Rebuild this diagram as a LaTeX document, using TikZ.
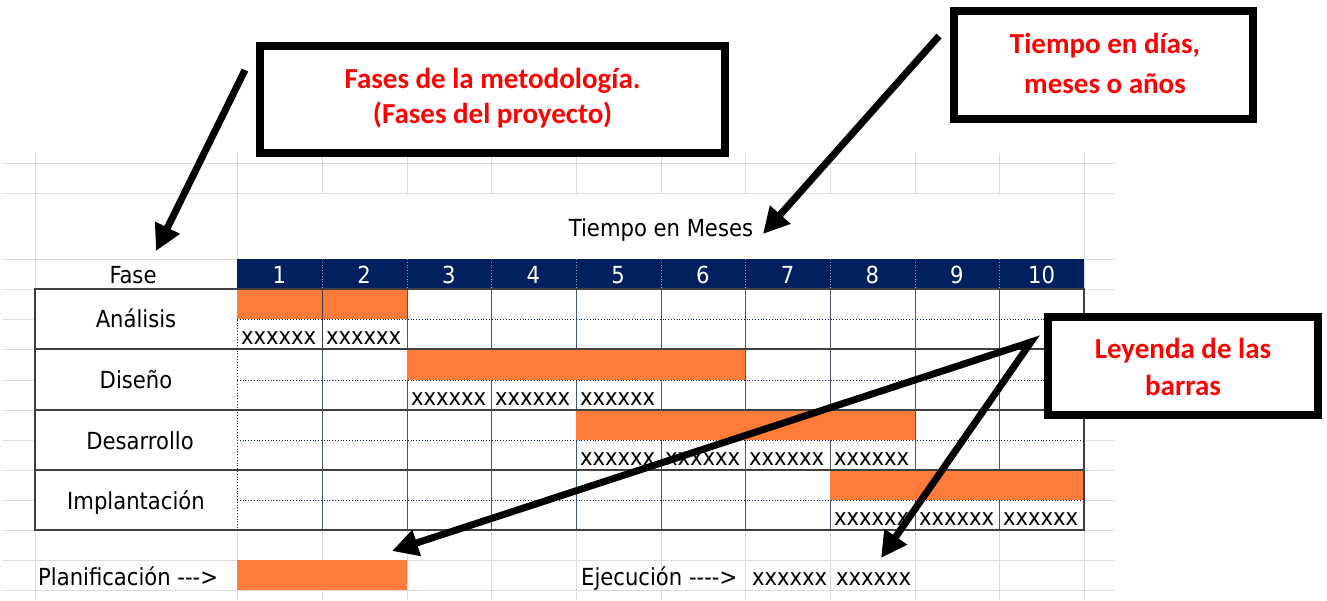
\documentclass[tikz,border=0pt]{standalone}
\usepackage{fontspec}
\newfontfamily\tabfont{DejaVu Sans Condensed}
\newfontfamily\calib{Carlito}
\usetikzlibrary{arrows.meta}
\definecolor{navy}{HTML}{002060}
\definecolor{orng}{HTML}{FF7B39}
\definecolor{lgrid}{HTML}{DCDCDC}
\definecolor{dgrid}{HTML}{404040}
\definecolor{vline}{HTML}{44547A}
\definecolor{redtxt}{HTML}{FF0000}
\tikzset{
  tabtxt/.style={font=\tabfont\fontsize{23.5}{28}\selectfont, inner sep=0pt},
  hdrtxt/.style={tabtxt, text=white, anchor=base},
  xlbl/.style={tabtxt, anchor=base west},
  redlbl/.style={font=\calib\bfseries\fontsize{29}{35}\selectfont, text=redtxt, inner sep=0pt, anchor=base},
  callout/.style={draw=black, line width=8pt, fill=white, inner sep=0pt},
  bigarrow/.style={line width=7pt, line join=miter, -{Triangle[length=26pt,width=26pt]}},
  bar/.style={fill=orng},
  light/.style={lgrid, line width=1pt},
}
\begin{document}
\begin{tikzpicture}[x=1pt,y=-1pt]
\useasboundingbox (0,0) rectangle (1327,600);
\fill[white] (0,0) rectangle (1327,600);

% spreadsheet grid
\foreach \y in {163,193,259,289,319,349,380,410,440,470,500,530,560,590}
  \draw[light] (3,\y) -- (1115,\y);
\foreach \x in {35,237,1084}
  \draw[light] (\x,153) -- (\x,600);
\foreach \x in {322,407,491,576,661,745,830,915,999}{
  \draw[light] (\x,153) -- (\x,193);
  \draw[light] (\x,530) -- (\x,600);
}

% header
\fill[navy] (237,259) rectangle (1084,289);
\foreach \x in {322,407,491,576,661,745,830,915,999}
  \draw[white!55!navy, dotted, line width=0.8pt] (\x,259) -- (\x,289);
\foreach \n in {1,...,10}
  \node[hdrtxt] (h\n) at ({237+84.7*(\n-0.5)},283) {\n};

% table inner lines
\fill[white] (35,289) rectangle (1084,530);
\foreach \x in {322,407,491,576,661,745,830,915,999}
  \draw[vline, line width=0.9pt] (\x,289) -- (\x,530);
\foreach \y in {319,380,440,500}
  \draw[navy, dotted, line width=0.8pt] (237,\y) -- (1084,\y);
\draw[navy, dotted, line width=0.8pt] (237,289) -- (237,530);

% bars
\fill[bar] (237,289) rectangle (407,319);
\fill[bar] (407,349) rectangle (745,380);
\fill[bar] (576,410) rectangle (915,440);
\fill[bar] (830,470) rectangle (1084,500);
\fill[bar] (237,560) rectangle (407,590);
\draw[dgrid, line width=0.9pt] (322,289) -- (322,349);

% row separators and border
\foreach \y in {349,410,470}
  \draw[dgrid, line width=1.2pt] (35,\y) -- (1084,\y);
\draw[dgrid, line width=1.2pt] (35,289) rectangle (1084,530);

% texts
\node[tabtxt, anchor=base] (tiempo) at (661,236) {Tiempo en Meses};
\node[tabtxt, anchor=base] (fase) at (133,283) {Fase};
\node[tabtxt, anchor=base] (analisis) at (136,327) {Análisis};
\node[tabtxt, anchor=base] (diseno) at (136,388) {Diseño};
\node[tabtxt, anchor=base] (desarrollo) at (140,449) {Desarrollo};
\node[tabtxt, anchor=base] (implantacion) at (136,509) {Implantación};

\node[xlbl] (xa1) at (241,344) {xxxxxx};
\node[xlbl] (xa2) at (326,344) {xxxxxx};
\node[xlbl] (xd3) at (411,405) {xxxxxx};
\node[xlbl] (xd4) at (495,405) {xxxxxx};
\node[xlbl] (xd5) at (580,405) {xxxxxx};
\node[xlbl] (xr5) at (580,465) {xxxxxx};
\node[xlbl] (xr6) at (665,465) {xxxxxx};
\node[xlbl] (xr7) at (749,465) {xxxxxx};
\node[xlbl] (xr8) at (834,465) {xxxxxx};
\node[xlbl] (xi8) at (834,525) {xxxxxx};
\node[xlbl] (xi9) at (919,525) {xxxxxx};
\node[xlbl] (xi10) at (1003,525) {xxxxxx};

\node[xlbl] (planif) at (38,585) {Planificación --->};
\node[xlbl] (ejec) at (581,585) {Ejecución ---->};
\node[xlbl] (ex1) at (752,585) {xxxxxx};
\node[xlbl] (ex2) at (836,585) {xxxxxx};

% callout boxes
\node[callout, minimum width=465pt, minimum height=107pt] (box1) at (492.5,99.5) {};
\node[callout, minimum width=299pt, minimum height=108pt] (box2) at (1103.5,65) {};
\node[callout, minimum width=270pt, minimum height=98pt] (box3) at (1183,366) {};

\node[redlbl] (t1a) at (492.5,88) {Fases de la metodología.};
\node[redlbl] (t1b) at (492.5,123) {(Fases del proyecto)};
\node[redlbl] (t2a) at (1105,53) {Tiempo en días,};
\node[redlbl] (t2b) at (1105,93) {meses o años};
\node[redlbl] (t3a) at (1183,358) {Leyenda de las};
\node[redlbl] (t3b) at (1183,395) {barras};

% arrows
\coordinate (a1s) at (245,70);
\coordinate (a1e) at (156,251);
\coordinate (a2s) at (939,36);
\coordinate (a2e) at (763,234);
\coordinate (a3s) at (1031,342);
\coordinate (a3e) at (392,551);
\coordinate (a4e) at (881,558);
\draw[bigarrow] (a1s) -- (a1e);
\draw[bigarrow] (a2s) -- (a2e);
\draw[bigarrow, {Triangle[length=26pt,width=26pt]}-{Triangle[length=26pt,width=26pt]}] (a3e) -- (a3s) -- (a4e);
\end{tikzpicture}
\end{document}
